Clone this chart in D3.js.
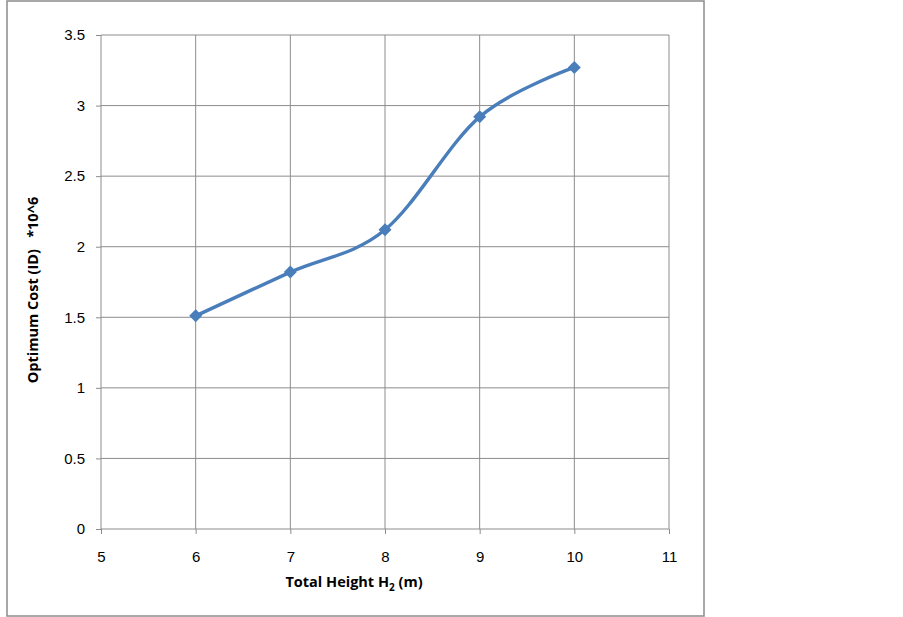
<!DOCTYPE html>
<html><head><meta charset="utf-8">
<script src="https://cdn.jsdelivr.net/npm/d3@7"></script>
<style>body{margin:0;background:#fff}svg{display:block}</style>
</head><body>
<svg id="c" width="903" height="617"></svg>
<script>
const xValues = [6, 7, 8, 9, 10];
const costValues = [1.51, 1.82, 2.12, 2.92, 3.27];
const xTicks = [5, 6, 7, 8, 9, 10, 11];
const yTicks = [0, 0.5, 1, 1.5, 2, 2.5, 3, 3.5];

const svg = d3.select("#c");
svg.append("rect").attr("x", 7).attr("y", 1).attr("width", 697).attr("height", 615)
  .attr("fill", "#fff").attr("stroke", "#8c8c8c").attr("stroke-width", 1.5);

const x = d3.scaleLinear().domain([5, 11]).range([101, 669]);
const y = d3.scaleLinear().domain([0, 3.5]).range([529, 35]);
const grid = "#8c8c8c";

const gx = svg.append("g").attr("transform", "translate(0,529)")
  .call(d3.axisBottom(x).tickValues(xTicks).tickSize(5).tickPadding(17).tickFormat(d3.format("d")));
const gy = svg.append("g").attr("transform", "translate(101,0)")
  .call(d3.axisLeft(y).tickValues(yTicks).tickSize(5).tickPadding(11).tickFormat(d => String(d)));
[gx, gy].forEach(g => {
  g.select(".domain").remove();
  g.selectAll("line").attr("stroke", grid);
  g.selectAll("text").style("font-family", "'Liberation Sans', Arial, sans-serif").style("font-size", "15px").attr("fill", "#000");
});
// gridlines
svg.append("g").selectAll("line").data(yTicks).join("line")
  .attr("x1", 101).attr("x2", 669).attr("y1", d => y(d)).attr("y2", d => y(d))
  .attr("stroke", grid).attr("stroke-width", 1);
svg.append("g").selectAll("line").data(xTicks).join("line")
  .attr("x1", d => x(d)).attr("x2", d => x(d)).attr("y1", 35).attr("y2", 529)
  .attr("stroke", grid).attr("stroke-width", 1);

const pts = xValues.map((v, i) => [v, costValues[i]]);
const line = d3.line().x(d => x(d[0])).y(d => y(d[1])).curve(d3.curveCardinal.tension(0));
svg.append("path").attr("d", line(pts)).attr("fill", "none")
  .attr("stroke", "#4a7ebb").attr("stroke-width", 3.4).attr("stroke-linecap", "round");
svg.append("g").selectAll("path").data(pts).join("path")
  .attr("d", "M0,-6.5L6.5,0L0,6.5L-6.5,0Z")
  .attr("transform", d => `translate(${x(d[0])},${y(d[1])})`)
  .attr("fill", "#4a7ebb");

svg.append("text").attr("transform", "translate(38,290) rotate(-90)")
  .attr("text-anchor", "middle").style("font-family", "'Open Sans', sans-serif").style("font-weight", "bold")
  .style("font-size", "14.5px").attr("fill", "#000").attr("xml:space", "preserve")
  .text("Optimum Cost (ID)   *10^6");

const xt = svg.append("text").attr("x", 354).attr("y", 587).attr("text-anchor", "middle")
  .style("font-family", "'Open Sans', sans-serif").style("font-weight", "bold")
  .style("font-size", "14.5px").attr("fill", "#000");
xt.append("tspan").text("Total Height H");
xt.append("tspan").style("font-size", "10px").attr("dy", 4).text("2");
xt.append("tspan").attr("dy", -4).text(" (m)");
</script>
</body></html>
